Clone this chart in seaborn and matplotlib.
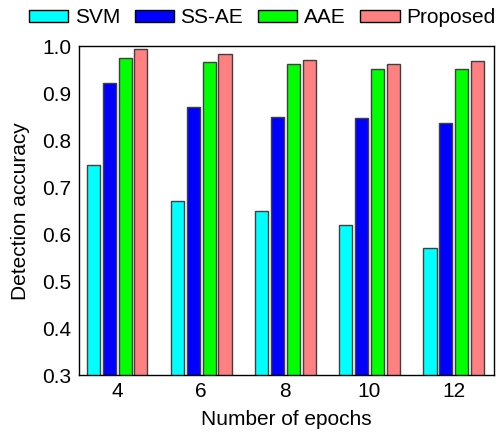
import matplotlib
matplotlib.use("Agg")
import matplotlib.pyplot as plt
import seaborn as sns
import pandas as pd

# Detection accuracy for each method at several training epoch counts
epochs = ["4", "6", "8", "10", "12"]
methods = ["SVM", "SS-AE", "AAE", "Proposed"]
svm = [0.747, 0.670, 0.650, 0.619, 0.570]
ss_ae = [0.921, 0.871, 0.850, 0.846, 0.836]
aae = [0.975, 0.965, 0.961, 0.951, 0.951]
proposed = [0.994, 0.983, 0.971, 0.961, 0.969]
colors = ["#00FFFF", "#0000FF", "#00FF00", "#FF8080"]
yticks = [0.3, 0.4, 0.5, 0.6, 0.7, 0.8, 0.9, 1.0]

rows = []
for name, vals in zip(methods, [svm, ss_ae, aae, proposed]):
    for e, v in zip(epochs, vals):
        rows.append({"Epochs": e, "Method": name, "Accuracy": v})
df = pd.DataFrame(rows)

sns.set_style("white")
plt.rcParams["font.family"] = ["Liberation Sans", "DejaVu Sans"]
plt.rcParams.update({
    "text.color": "black",
    "axes.labelcolor": "black",
    "xtick.color": "black",
    "ytick.color": "black",
})

fig = plt.figure(figsize=(5.0, 4.34), dpi=100)
ax = fig.add_axes([0.157, 0.135, 0.831, 0.759])

sns.barplot(data=df, x="Epochs", y="Accuracy", hue="Method",
            order=epochs, hue_order=methods, palette=colors, saturation=1,
            width=0.75, gap=0.17, edgecolor="#404040", linewidth=1.0,
            ax=ax, legend=True)

ax.set_ylim(0.3, 1.0)
ax.set_xlim(-0.46, 4.48)
ax.set_yticks(yticks)
ax.set_yticklabels([f"{t:.1f}" for t in yticks])
ax.set_xlabel("Number of epochs", fontsize=15, labelpad=6, color="black")
ax.set_ylabel("Detection accuracy", fontsize=15, labelpad=9, color="black")
ax.tick_params(axis="both", direction="in", length=4, width=1,
               labelsize=15, colors="black", pad=5)
ax.tick_params(axis="x", length=3)
for s in ax.spines.values():
    s.set_visible(True)
    s.set_color("black")
    s.set_linewidth(1.0)

handles, labels = ax.get_legend_handles_labels()
ax.get_legend().remove()
leg = fig.legend(handles, labels, loc="upper left", bbox_to_anchor=(0.041, 1.0),
                 ncol=4, frameon=False, fontsize=15, handlelength=1.9,
                 handleheight=0.5, handletextpad=0.3, columnspacing=0.7,
                 borderaxespad=0.0)
for t in leg.get_texts():
    t.set_color("black")
for h in leg.legend_handles:
    h.set_edgecolor("black")

fig.savefig("out.png", dpi=100)
